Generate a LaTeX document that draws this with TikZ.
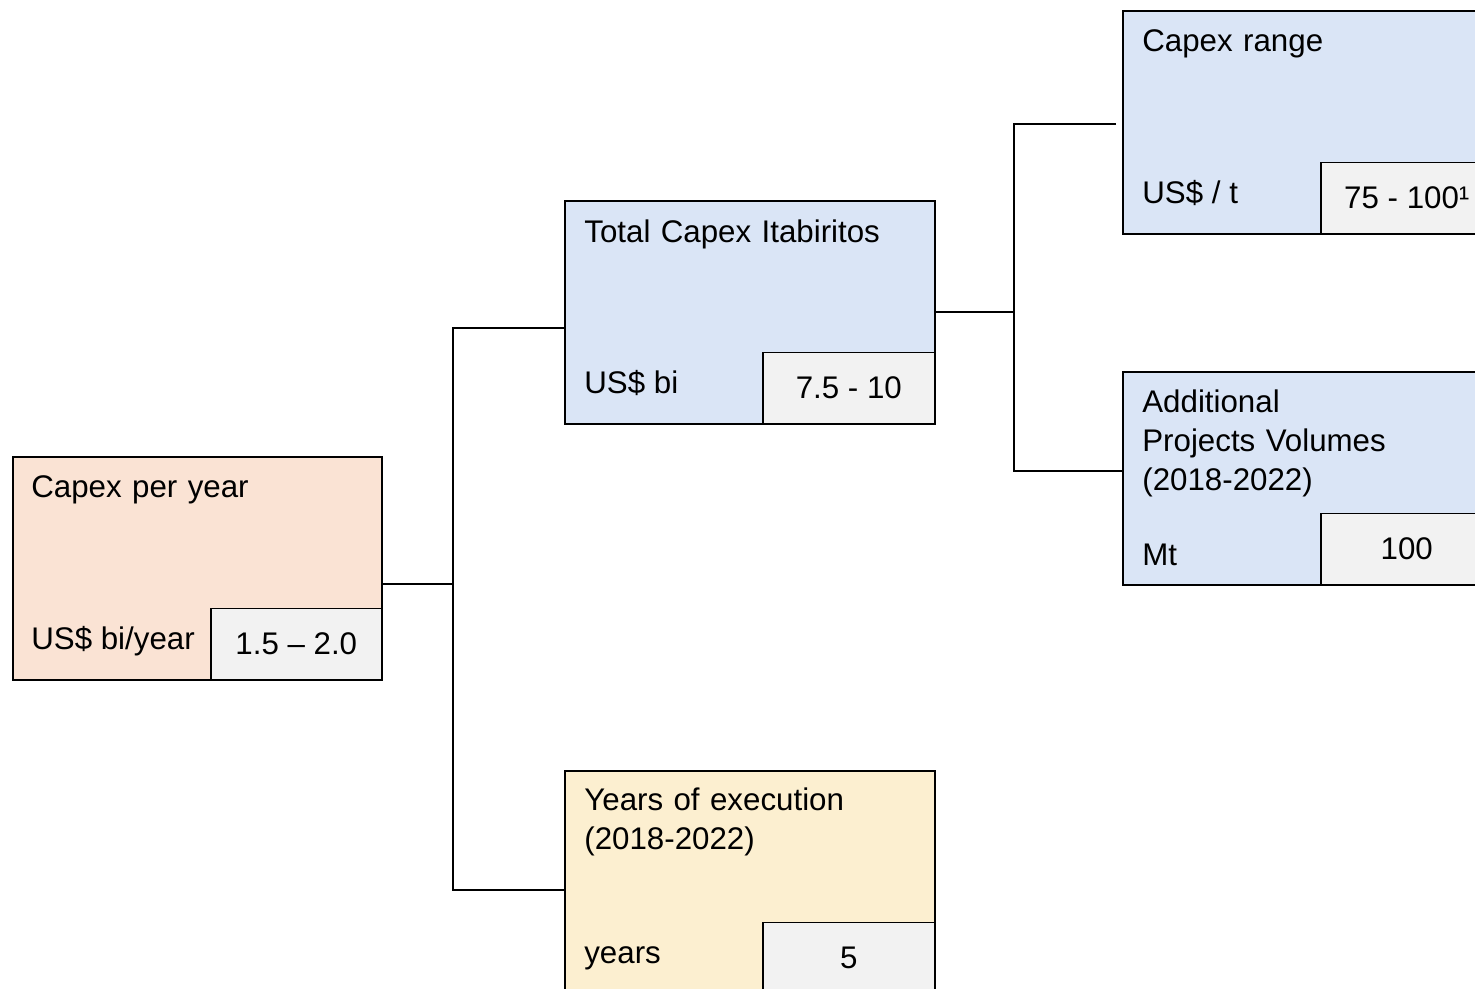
\documentclass[tikz,border=0pt]{standalone}
\usepackage{fontspec}
\setmainfont{Liberation Sans}
\usepackage{xcolor}
\usetikzlibrary{positioning}
\definecolor{peach}{HTML}{FAE3D4}
\definecolor{skyblue}{HTML}{DAE5F6}
\definecolor{sand}{HTML}{FCEFD0}
\definecolor{valgray}{HTML}{F2F2F2}

\begin{document}
\begin{tikzpicture}[x=0.2mm,y=-0.2mm,
font=\fontsize{17.8}{22.2}\selectfont,
kpi/.style={draw,line width=0.9pt,anchor=north west,inner sep=0pt,
  minimum width=74mm,minimum height=44.6mm},
val/.style={draw,line width=0.9pt,fill=valgray,anchor=south east,inner sep=0pt,
  minimum width=34.4mm,minimum height=14.3mm},
ttl/.style={anchor=base west,inner sep=0pt,text width=60mm,align=left},
unit/.style={anchor=base west,inner sep=0pt},
link/.style={line width=0.9pt}]
\useasboundingbox (0,0) rectangle (1475,988);
\clip (0,0) rectangle (1475,988);
% driver boxes
\node[kpi,fill=peach,minimum width=73.8mm] (cpy) at (12,456) {};
\node[kpi,fill=skyblue] (tci) at (564,200) {};
\node[kpi,fill=sand] (yrs) at (564,770) {};
\node[kpi,fill=skyblue] (cxr) at (1122,10) {};
\node[kpi,fill=skyblue,minimum height=42.6mm] (apv) at (1122,371) {};
% value cells
\node[val,minimum width=34.2mm] (cpyv) at (cpy.south east) {1.5 -- 2.0};
\node[val] (tciv) at (tci.south east) {7.5 - 10};
\node[val] (yrsv) at (yrs.south east) {5};
\node[val] (cxrv) at (cxr.south east) {75 - 100¹};
\node[val] (apvv) at (apv.south east) {100};
% titles and units
\node[ttl] (cpyt) at (31,497) {Capex per year};
\node[unit] (cpyu) at (31,649) {US\$ bi/year};
\node[ttl] (tcit) at (584,242) {Total Capex Itabiritos};
\node[unit] (tciu) at (584,393) {US\$ bi};
\node[ttl] (yrst) at (584,810) {Years of execution\\(2018-2022)};
\node[unit] (yrsu) at (584,963) {years};
\node[ttl] (cxrt) at (1142,51) {Capex range};
\node[unit] (cxru) at (1142,203) {US\$ / t};
\node[ttl] (apvt) at (1142,412) {Additional\\Projects Volumes\\(2018-2022)};
\node[unit] (apvu) at (1142,565) {Mt};
% tree connectors
\coordinate (j1) at (453,584);
\coordinate (j2) at (1014,312);
\draw[link] (cpy.east |- j1) -- (j1);
\draw[link] (tci.west |- 0,328) -| (j1) |- (yrs.west |- 0,890);
\draw[link] (tci.east |- j2) -- (j2);
\draw[link,shorten <=3.4pt] (cxr.west |- 0,124) -| (j2) |- (apv.west |- 0,471);
\end{tikzpicture}
\end{document}
